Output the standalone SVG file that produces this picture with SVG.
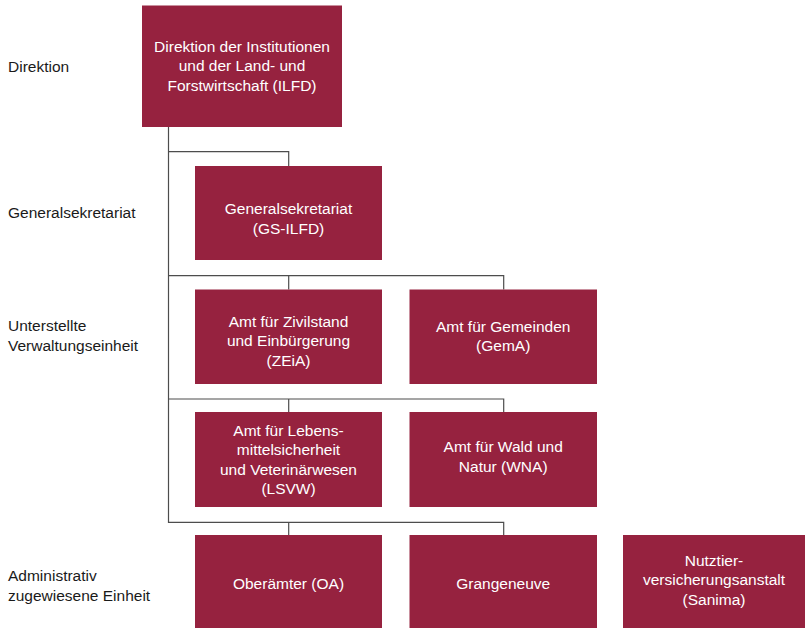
<svg xmlns="http://www.w3.org/2000/svg" width="805" height="628" viewBox="0 0 805 628">
<style>
.box{fill:#96223f;}
.bt{font-family:"Liberation Sans",Arial,Helvetica,sans-serif;font-size:15.5px;fill:#ffffff;text-anchor:middle;}
.lbl{font-family:"Liberation Sans",Arial,Helvetica,sans-serif;font-size:15.5px;fill:#1a1a1a;}
.con{fill:none;stroke:#4d4d4d;stroke-width:1.2;}
</style>
<rect width="805" height="628" fill="#ffffff"/>
<g id="labels">
<text class="lbl" x="8" y="72">Direktion</text>
<text class="lbl" x="8" y="218">Generalsekretariat</text>
<text class="lbl" x="8" y="331">Unterstellte</text>
<text class="lbl" x="8" y="350.5">Verwaltungseinheit</text>
<text class="lbl" x="8" y="581">Administrativ</text>
<text class="lbl" x="8" y="601">zugewiesene Einheit</text>
</g>
<g id="connectors">
<path class="con" d="M168.5,127 V522.3 H503.7 V535"/>
<path class="con" d="M168.5,151.7 H288.7 V166"/>
<path class="con" d="M168.5,275.7 H503.7 V289.5"/>
<path class="con" d="M288.7,275.7 V289.5"/>
<path class="con" d="M168.5,399 H503.7 V412"/>
<path class="con" d="M288.7,399 V412"/>
<path class="con" d="M288.7,522.3 V535"/>
</g>
<g id="ilfd">
<rect class="box" x="142" y="5.5" width="200" height="121.5"/>
<text class="bt" x="242" y="51.5">Direktion der Institutionen</text>
<text class="bt" x="242" y="71">und der Land- und</text>
<text class="bt" x="242" y="90.5">Forstwirtschaft (ILFD)</text>
</g>
<g id="gs">
<rect class="box" x="195" y="166" width="187" height="94"/>
<text class="bt" x="288.5" y="214">Generalsekretariat</text>
<text class="bt" x="288.5" y="233.5">(GS-ILFD)</text>
</g>
<g id="zeia">
<rect class="box" x="195" y="289.5" width="187" height="94.5"/>
<text class="bt" x="288.5" y="326.5">Amt für Zivilstand</text>
<text class="bt" x="288.5" y="346">und Einbürgerung</text>
<text class="bt" x="288.5" y="365.5">(ZEiA)</text>
</g>
<g id="gema">
<rect class="box" x="409.5" y="289.5" width="187.5" height="94.5"/>
<text class="bt" x="503.2" y="331.5">Amt für Gemeinden</text>
<text class="bt" x="503.2" y="351">(GemA)</text>
</g>
<g id="lsvw">
<rect class="box" x="195" y="412" width="187" height="95"/>
<text class="bt" x="288.5" y="435.5">Amt für Lebens-</text>
<text class="bt" x="288.5" y="455">mittelsicherheit</text>
<text class="bt" x="288.5" y="474.5">und Veterinärwesen</text>
<text class="bt" x="288.5" y="494">(LSVW)</text>
</g>
<g id="wna">
<rect class="box" x="409.5" y="412" width="187.5" height="95"/>
<text class="bt" x="503.2" y="452">Amt für Wald und</text>
<text class="bt" x="503.2" y="471.5">Natur (WNA)</text>
</g>
<g id="oa">
<rect class="box" x="195" y="535" width="187" height="93"/>
<text class="bt" x="288.5" y="588.5">Oberämter (OA)</text>
</g>
<g id="grangeneuve">
<rect class="box" x="409.5" y="535" width="187.5" height="93"/>
<text class="bt" x="503.2" y="588.5">Grangeneuve</text>
</g>
<g id="sanima">
<rect class="box" x="623" y="535" width="182" height="93"/>
<text class="bt" x="714" y="565.5">Nutztier-</text>
<text class="bt" x="714" y="585">versicherungsanstalt</text>
<text class="bt" x="714" y="604.5">(Sanima)</text>
</g>
</svg>
